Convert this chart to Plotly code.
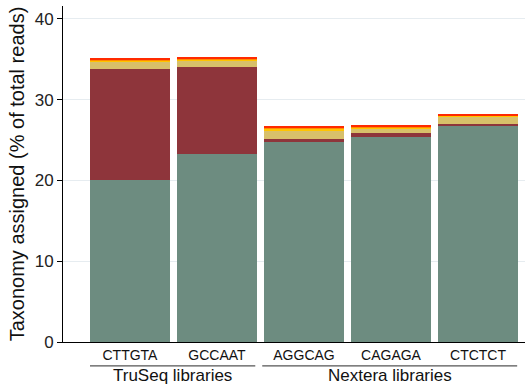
import plotly.graph_objects as go

categories = ["CTTGTA", "GCCAAT", "AGGCAG", "CAGAGA", "CTCTCT"]
groups = ["TruSeq libraries", "Nextera libraries"]
seg_green = [20.1, 23.3, 24.8, 25.4, 26.7]
seg_darkred = [13.7, 10.7, 0.35, 0.45, 0.35]
seg_khaki = [0.9, 0.8, 1.0, 0.6, 0.85]
seg_yellow = [0.2, 0.2, 0.3, 0.15, 0.1]
seg_orange = [0.12, 0.15, 0.1, 0.08, 0.07]
seg_red = [0.1, 0.12, 0.08, 0.08, 0.07]

colors = ["#6d8c80", "#8e353b", "#d8c06a", "#ffc400", "#ff8c00", "#ff2a00"]
series = [seg_green, seg_darkred, seg_khaki, seg_yellow, seg_orange, seg_red]

fig = go.Figure()
x = list(range(len(categories)))
for vals, c in zip(series, colors):
    fig.add_trace(go.Bar(x=x, y=vals, marker=dict(color=c, line=dict(width=0)),
                         width=0.92, showlegend=False))

fig.update_layout(
    barmode="stack",
    width=525, height=387,
    margin=dict(l=63, r=0, t=6, b=45),
    plot_bgcolor="white", paper_bgcolor="white",
    font=dict(family="Liberation Sans, Arial", color="#111"),
    xaxis=dict(range=[-0.77, 4.54], tickmode="array", tickvals=x, ticktext=categories,
               showline=True, linecolor="black", linewidth=1, ticks="",
               tickfont=dict(size=14, color="#111"), showgrid=False, zeroline=False),
    yaxis=dict(range=[0, 41.6], tickvals=[0, 10, 20, 30, 40], showline=True,
               linecolor="black", linewidth=1, ticks="outside", ticklen=5,
               tickcolor="black", tickfont=dict(size=17, color="#222"),
               gridcolor="#e6ecf0", gridwidth=1, zeroline=False,
               title=dict(text="Taxonomy assigned (% of total reads)",
                          font=dict(size=20, color="#111"), standoff=4)),
)

spans = [(-0.46, 1.44), (1.52, 4.45)]
for (a, b), g in zip(spans, groups):
    fig.add_shape(type="line", xref="x", yref="paper", x0=a, x1=b, y0=-0.071, y1=-0.071,
                  line=dict(color="#555", width=1.3))
    fig.add_annotation(x=(a + b) / 2, y=-0.101, xref="x", yref="paper", text=g,
                       showarrow=False, yanchor="middle", borderpad=0,
                       font=dict(size=17, color="#111"))

fig.write_html("out.html")
